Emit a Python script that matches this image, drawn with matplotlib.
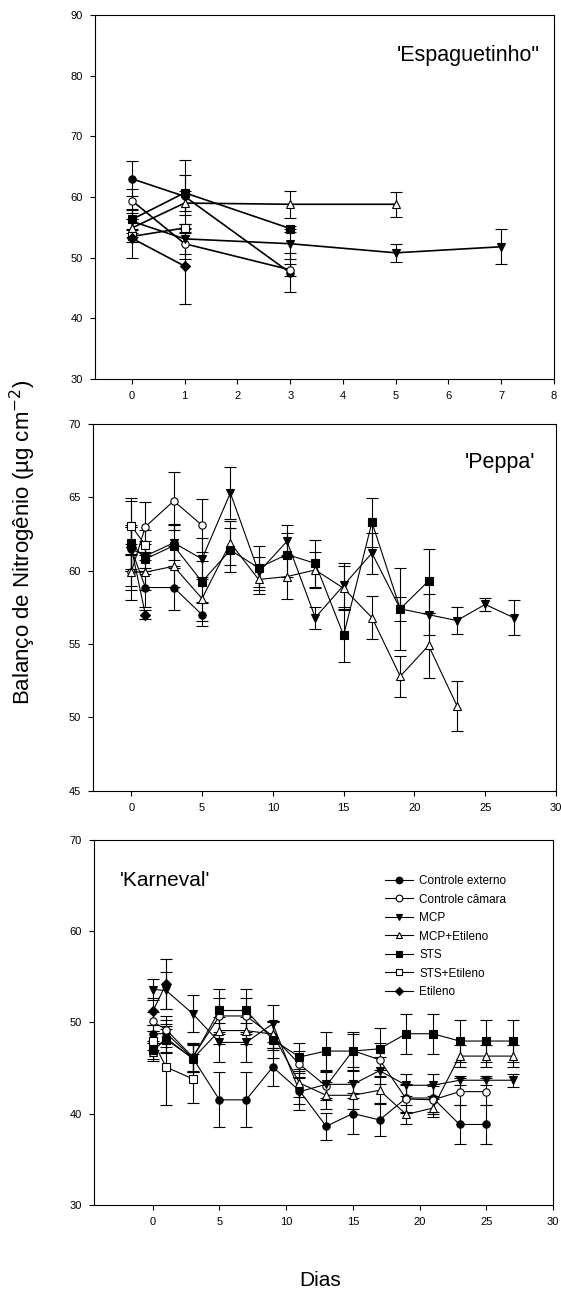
import numpy as np
import matplotlib
matplotlib.use('Agg')
import matplotlib.pyplot as plt
from matplotlib.lines import Line2D

plt.rcParams['font.family'] = ['Liberation Sans', 'DejaVu Sans']

labels = ['Controle externo', 'Controle câmara', 'MCP', 'MCP+Etileno',
          'STS', 'STS+Etileno', 'Etileno']
markers = ['o', 'o', 'v', '^', 's', 's', 'D']
fills = ['black', 'white', 'black', 'white', 'black', 'white', 'black']

# 'Espaguetinho"
esp_x = [[0, 1, 3], [0, 1, 3], [0, 1, 3, 5, 7], [0, 1, 3, 5], [0, 1, 3], [0, 1], [0, 1]]
esp_y = [[63.0, 60.1, 47.5], [59.4, 52.3, 48.0], [56.0, 53.1, 52.3, 50.8, 51.8],
         [54.9, 59.0, 58.8, 58.8], [56.3, 60.7, 54.8], [53.5, 54.9], [53.2, 48.6]]
esp_e = [[2.9, 6.0, 3.2], [2.0, 2.5, 1.0], [2.0, 2.5, 2.5, 1.5, 2.9],
         [1.5, 2.0, 2.2, 2.1], [1.5, 3.0, 0.5], [1.0, 0.7], [3.2, 6.3]]

# 'Peppa'
pep_x = [[0, 1, 3, 5], [0, 1, 3, 5],
         [0, 1, 3, 5, 7, 9, 11, 13, 15, 17, 19, 21, 23, 25, 27],
         [0, 1, 3, 5, 7, 9, 11, 13, 15, 17, 19, 21, 23],
         [0, 1, 3, 5, 7, 9, 11, 13, 15, 17, 19, 21], [0, 1], [0, 1]]
pep_y = [[61.5, 58.85, 58.85, 57.0], [59.9, 63.0, 64.75, 63.1],
         [61.5, 61.0, 61.9, 60.8, 65.3, 59.9, 62.0, 56.8, 59.0, 61.2, 57.4, 57.0, 56.6, 57.7, 56.8],
         [59.9, 59.9, 60.3, 58.1, 61.9, 59.4, 59.6, 60.05, 58.8, 56.8, 52.8, 54.9, 50.8],
         [61.86, 60.8, 61.7, 59.25, 61.4, 60.2, 61.1, 60.5, 55.6, 63.3, 57.4, 59.3],
         [63.05, 61.75], [61.6, 57.0]]
pep_e = [[1.5, 1.3, 1.5, 0.8], [1.9, 1.7, 2.0, 1.8],
         [1.5, 1.0, 1.2, 1.4, 1.8, 1.0, 1.1, 0.75, 1.5, 1.4, 0.8, 1.4, 0.9, 0.45, 1.2],
         [1.2, 1.2, 1.4, 1.5, 1.5, 1.0, 1.5, 1.2, 1.5, 1.45, 1.4, 2.2, 1.7],
         [2.9, 1.0, 1.5, 1.4, 1.5, 1.5, 1.5, 1.6, 1.8, 1.66, 2.8, 2.2],
         [1.9, 1.0], [1.5, 0.3]]

# 'Karneval'
kar_x = [[0, 1, 3, 5, 7, 9, 11, 13, 15, 17, 19, 21, 23, 25],
         [0, 1, 3, 5, 7, 9, 11, 13, 15, 17, 19, 21, 23, 25],
         [0, 1, 3, 5, 7, 9, 11, 13, 15, 17, 19, 21, 23, 25, 27],
         [0, 1, 3, 5, 7, 9, 11, 13, 15, 17, 19, 21, 23, 25, 27],
         [0, 1, 3, 5, 7, 9, 11, 13, 15, 17, 19, 21, 23, 25, 27],
         [0, 1, 3], [0, 1]]
kar_y = [[48.7, 48.8, 46.1, 41.5, 41.5, 45.1, 42.5, 38.6, 40.0, 39.3, 41.7, 41.7, 38.8, 38.8],
         [50.1, 49.2, 46.2, 50.7, 50.7, 48.5, 45.4, 43.0, 46.9, 45.9, 41.6, 41.5, 42.4, 42.4],
         [53.6, 53.5, 50.95, 47.8, 47.8, 49.85, 42.4, 43.2, 43.2, 44.7, 43.1, 43.1, 43.65, 43.65, 43.65],
         [46.75, 48.3, 46.0, 49.1, 49.1, 48.7, 43.35, 42.0, 42.0, 42.55, 39.9, 40.6, 46.3, 46.3, 46.3],
         [47.0, 48.1, 46.1, 51.3, 51.3, 48.1, 46.2, 46.85, 46.85, 47.1, 48.75, 48.75, 47.95, 47.95, 47.95],
         [48.0, 45.1, 43.8], [51.2, 54.2]]
kar_e = [[1.0, 1.5, 1.5, 3.0, 3.0, 2.1, 1.5, 1.5, 2.2, 1.8, 1.5, 1.5, 2.1, 2.1],
         [1.0, 1.5, 1.5, 2.0, 2.0, 1.5, 1.5, 1.5, 1.8, 1.8, 1.5, 1.5, 1.5, 1.5],
         [1.2, 2.0, 2.0, 2.1, 2.1, 2.0, 2.0, 1.5, 1.5, 1.5, 1.2, 1.2, 0.5, 0.5, 0.7],
         [1.0, 1.5, 1.5, 1.5, 1.5, 1.5, 1.5, 1.5, 1.5, 1.5, 1.0, 1.0, 1.2, 1.2, 1.2],
         [1.0, 1.5, 1.6, 2.4, 2.4, 2.0, 1.5, 2.1, 2.1, 2.3, 2.2, 2.2, 2.3, 2.3, 2.3],
         [1.0, 4.2, 2.7], [1.5, 2.7]]

W, H = 561, 1291
fig = plt.figure(figsize=(W / 100, H / 100), dpi=100)

def make_ax(left, right, top, bottom):
    return fig.add_axes([left / W, 1 - bottom / H, (right - left) / W, (bottom - top) / H])

ax1 = make_ax(95, 554, 15, 379)
ax2 = make_ax(93, 556, 424, 790.7)
ax3 = make_ax(94, 553, 840, 1204.7)

def msize(m):
    return 4.8 if m == 'D' else 5.3

def draw(ax, xs, ys, es, lw):
    for i in range(len(labels)):
        ax.errorbar(xs[i], ys[i], yerr=es[i], color='black', lw=lw, elinewidth=0.8,
                    capsize=4, capthick=0.8, marker=markers[i], ms=msize(markers[i]),
                    mfc=fills[i], mec='black', mew=0.8)

draw(ax1, esp_x, esp_y, esp_e, 1.2)
draw(ax2, pep_x, pep_y, pep_e, 0.8)
draw(ax3, kar_x, kar_y, kar_e, 0.8)

ax1.set_xlim(-0.7, 8)
ax1.set_ylim(30, 90)
ax1.set_xticks(range(0, 9))
ax1.set_yticks(range(30, 91, 10))
ax2.set_xlim(-2.7, 30)
ax2.set_ylim(45, 70)
ax2.set_xticks(range(0, 31, 5))
ax2.set_yticks(range(45, 71, 5))
ax3.set_xlim(-4.4, 30)
ax3.set_ylim(30, 70)
ax3.set_xticks(range(0, 31, 5))
ax3.set_yticks(range(30, 71, 10))

for ax in (ax1, ax2, ax3):
    ax.tick_params(direction='out', length=3.6, width=0.8, labelsize=8, pad=5,
                   top=False, right=False)
    for s in ax.spines.values():
        s.set_linewidth(0.8)

ax1.text(0.97, 0.89, "'Espaguetinho\"", transform=ax1.transAxes, ha='right', va='center', fontsize=15.5)
ax2.text(0.955, 0.896, "'Peppa'", transform=ax2.transAxes, ha='right', va='center', fontsize=15.5)
ax3.text(0.057, 0.89, "'Karneval'", transform=ax3.transAxes, ha='left', va='center', fontsize=15)

handles = [Line2D([], [], color='black', lw=0.8, marker=markers[i], ms=msize(markers[i]) - 0.5,
                  mfc=fills[i], mec='black', mew=0.8) for i in range(len(labels))]
ax3.legend(handles, labels, loc='upper left', bbox_to_anchor=(0.622, 0.92), frameon=False,
           fontsize=8.5, handlelength=2.3, labelspacing=0.55, handletextpad=0.55, borderpad=0)

fig.text(23 / W, 1 - 542 / H, 'Balanço de Nitrogênio (µg cm$^{-2}$)', rotation=90,
         ha='center', va='center', fontsize=16)
fig.text(320 / W, 1 - 1280 / H, 'Dias', ha='center', va='center', fontsize=15)

fig.savefig('out.png', dpi=100)
